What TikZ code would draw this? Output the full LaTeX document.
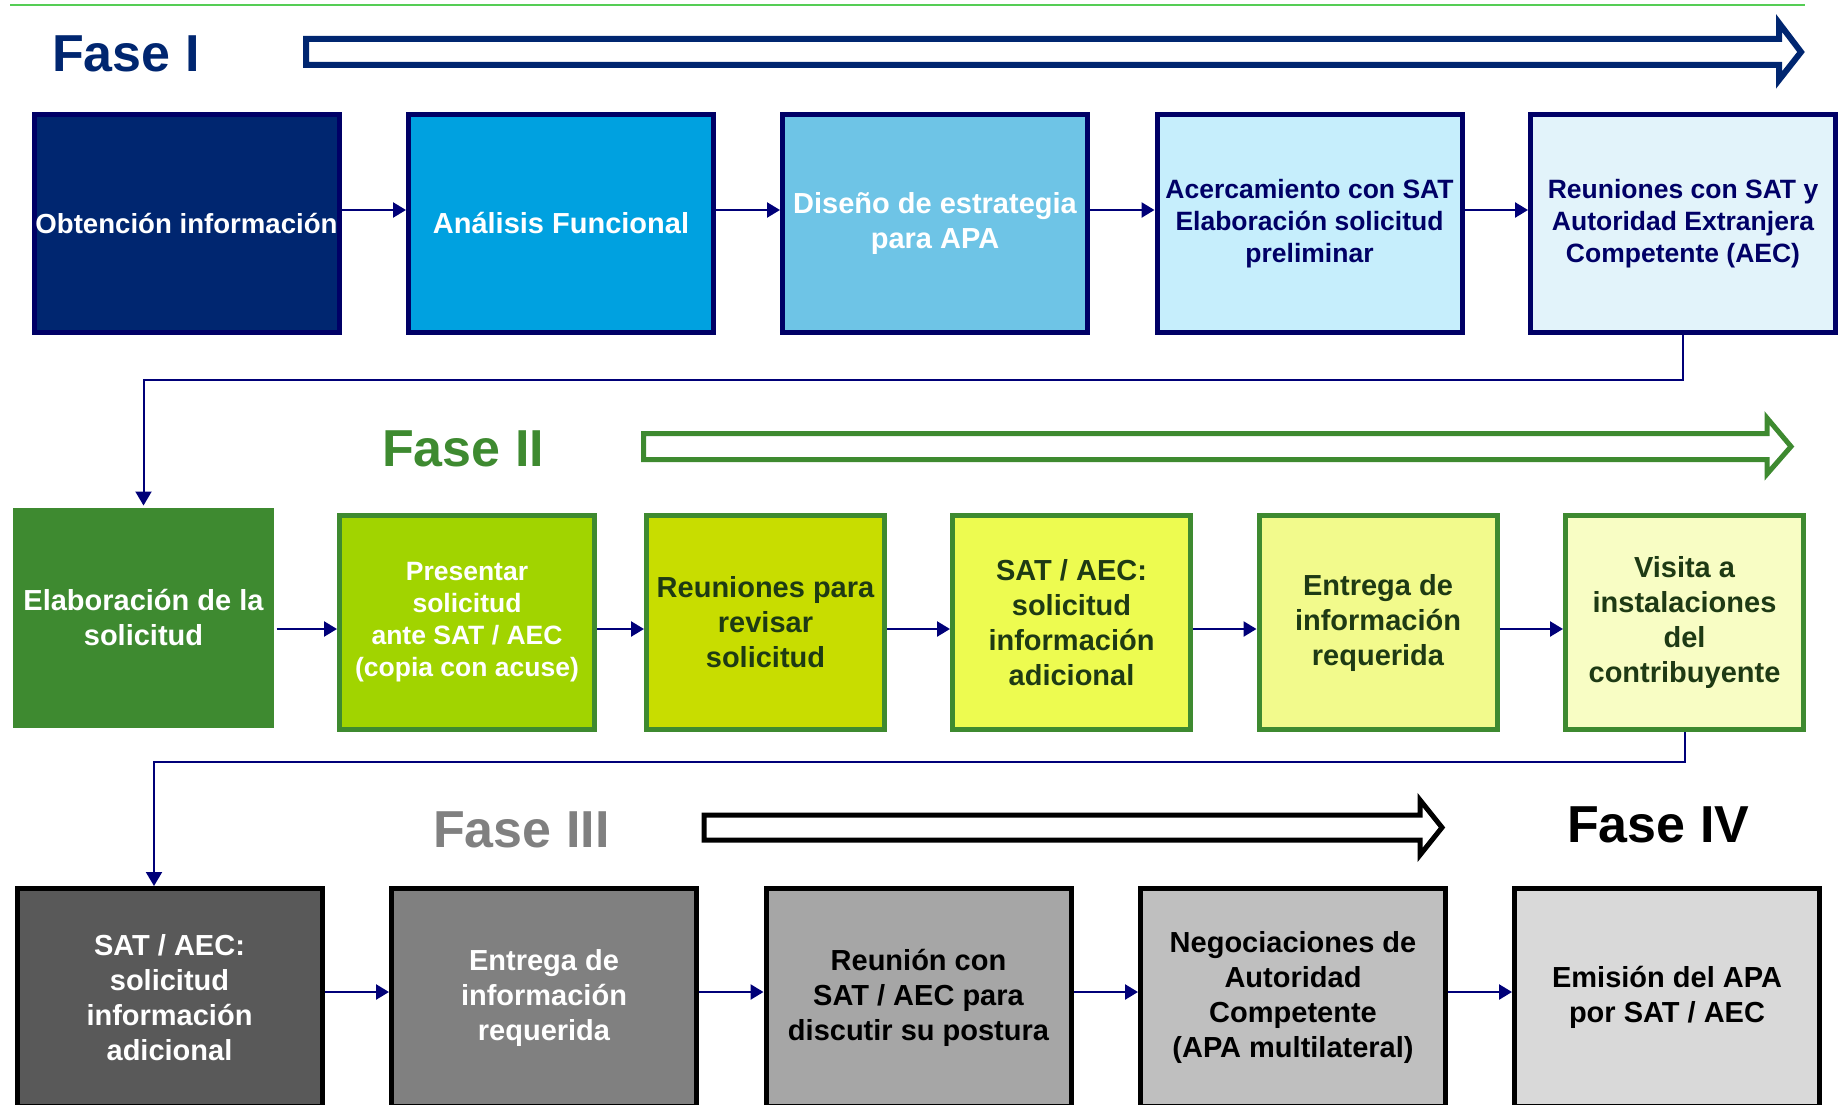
\documentclass[tikz,border=0pt]{standalone}
\usepackage{fontspec}
\setmainfont{Liberation Sans}
\usetikzlibrary{arrows.meta}

\definecolor{azulfase}{RGB}{0,38,112}
\definecolor{bordeazul}{RGB}{0,0,102}
\definecolor{azulclaro}{RGB}{0,161,224}
\definecolor{celeste}{RGB}{110,196,230}
\definecolor{celestep}{RGB}{198,238,252}
\definecolor{celestepp}{RGB}{226,243,250}
\definecolor{verdefase}{RGB}{62,138,48}
\definecolor{verdeA}{RGB}{161,212,0}
\definecolor{verdeB}{RGB}{200,221,0}
\definecolor{verdeC}{RGB}{237,251,80}
\definecolor{verdeD}{RGB}{242,250,140}
\definecolor{verdeE}{RGB}{248,253,196}
\definecolor{textoverde}{RGB}{30,58,20}
\definecolor{lineaverde}{RGB}{85,205,85}
\definecolor{conector}{RGB}{0,0,120}

\begin{document}
\begin{tikzpicture}[x=1pt, y=-1pt,
    fase/.style={anchor=base west, inner sep=0pt, font=\bfseries\fontsize{52}{62}\selectfont},
    caja/.style={rectangle, line width=5pt, minimum width=305pt, minimum height=218pt,
        inner sep=0pt, align=center, font=\bfseries\fontsize{29}{35}\selectfont},
    chica/.style={font=\bfseries\fontsize{26.5}{32}\selectfont},
    cajaverde/.style={caja, draw=verdefase, minimum width=238pt, minimum height=214pt, text=textoverde},
    cajagris/.style={caja, draw=black},
    flechafase/.style={line width=5pt, line join=miter},
    flecha/.style={draw=conector, line width=2.5pt, -{Triangle[length=13pt,width=15pt]}},
    bajada/.style={draw=conector, line width=2pt, -{Triangle[length=14pt,width=16pt]}}]
    \clip (0,0) rectangle (1839,1105);

    \draw[lineaverde, line width=2pt] (10,5) -- (1805,5);

    % Fase I
    \node[fase, text=azulfase] (f1) at (52,72) {Fase I};
    \draw[flechafase, line width=6pt, draw=azulfase]
        (306,39) -- (1779,39) -- (1779,23) -- (1801,52) -- (1779,80)
        -- (1779,65) -- (306,65) -- cycle;

    \node[caja, draw=bordeazul, fill=azulfase, text=white, font=\bfseries\fontsize{27.6}{33}\selectfont]
        (a1) at (186.5,223.5) {Obtención información};
    \node[caja, draw=bordeazul, fill=azulclaro, text=white] (a2) at (561,223.5) {Análisis Funcional};
    \node[caja, draw=bordeazul, fill=celeste, text=white] (a3) at (935,223.5) {Diseño de estrategia\\para APA};
    \node[caja, chica, draw=bordeazul, fill=celestep, text=bordeazul] (a4) at (1309.5,223.5)
        {Acercamiento con SAT\\Elaboración solicitud\\preliminar};
    \node[caja, chica, draw=bordeazul, fill=celestepp, text=bordeazul] (a5) at (1683,223.5)
        {Reuniones con SAT y\\Autoridad Extranjera\\Competente (AEC)};
    \foreach \a/\b in {a1/a2, a2/a3, a3/a4, a4/a5}
        \draw[flecha] ([yshift=13.5pt]\a.east) -- ([yshift=13.5pt]\b.west);

    % Fase II
    \node[fase, text=verdefase] (f2) at (382,466) {Fase II};
    \draw[flechafase, draw=verdefase]
        (643.5,433.5) -- (1767,433.5) -- (1767,418) -- (1791,446.5) -- (1767,474)
        -- (1767,459.5) -- (643.5,459.5) -- cycle;

    \node[caja, fill=verdefase, text=white, minimum width=261pt, minimum height=220pt] (b1) at (143.5,618)
        {Elaboración de la\\solicitud};
    \node[cajaverde, chica, fill=verdeA, text=white, minimum width=255pt] (b2) at (467,622.5)
        {Presentar\\solicitud\\ante SAT / AEC\\(copia con acuse)};
    \node[cajaverde, fill=verdeB] (b3) at (765.5,622.5) {Reuniones para\\revisar\\solicitud};
    \node[cajaverde, fill=verdeC] (b4) at (1071.5,622.5) {SAT / AEC:\\solicitud\\información\\adicional};
    \node[cajaverde, fill=verdeD] (b5) at (1378,622.5) {Entrega de\\información\\requerida};
    \node[cajaverde, fill=verdeE] (b6) at (1684.5,622.5) {Visita a\\instalaciones\\del\\contribuyente};
    \foreach \a/\b in {b1/b2, b2/b3, b3/b4, b4/b5, b5/b6}
        \draw[flecha] ([yshift=-6.5pt]\b.west -| \a.east) -- ([yshift=-6.5pt]\b.west);

    \draw[bajada] (a5.south) -- ++(0,45) -| (b1.north);

    % Fase III y IV
    \node[fase, text=black!50] (f3) at (433,847) {Fase III};
    \draw[flechafase, draw=black]
        (704,815) -- (1420,815) -- (1420,800) -- (1442,827.5) -- (1420,855)
        -- (1420,840) -- (704,840) -- cycle;
    \node[fase, text=black] (f4) at (1567,842) {Fase IV};

    \node[cajagris, fill=black!65, text=white] (c1) at (169.5,997.5)
        {SAT / AEC:\\solicitud\\información\\adicional};
    \node[cajagris, fill=black!50, text=white] (c2) at (544,997.5) {Entrega de\\información\\requerida};
    \node[cajagris, fill=black!35, text=black] (c3) at (918.5,997.5) {Reunión con\\SAT / AEC para\\discutir su postura};
    \node[cajagris, fill=black!25, text=black] (c4) at (1293,997.5)
        {Negociaciones de\\Autoridad\\Competente\\(APA multilateral)};
    \node[cajagris, fill=black!15, text=black] (c5) at (1667,997.5) {Emisión del APA\\por SAT / AEC};
    \foreach \a/\b in {c1/c2, c2/c3, c3/c4, c4/c5}
        \draw[flecha] ([yshift=5.5pt]\a.east) -- ([yshift=5.5pt]\b.west);

    \draw[bajada] (b6.south) -- ++(0,30) -| ([xshift=-15.5pt]c1.north);
\end{tikzpicture}
\end{document}
